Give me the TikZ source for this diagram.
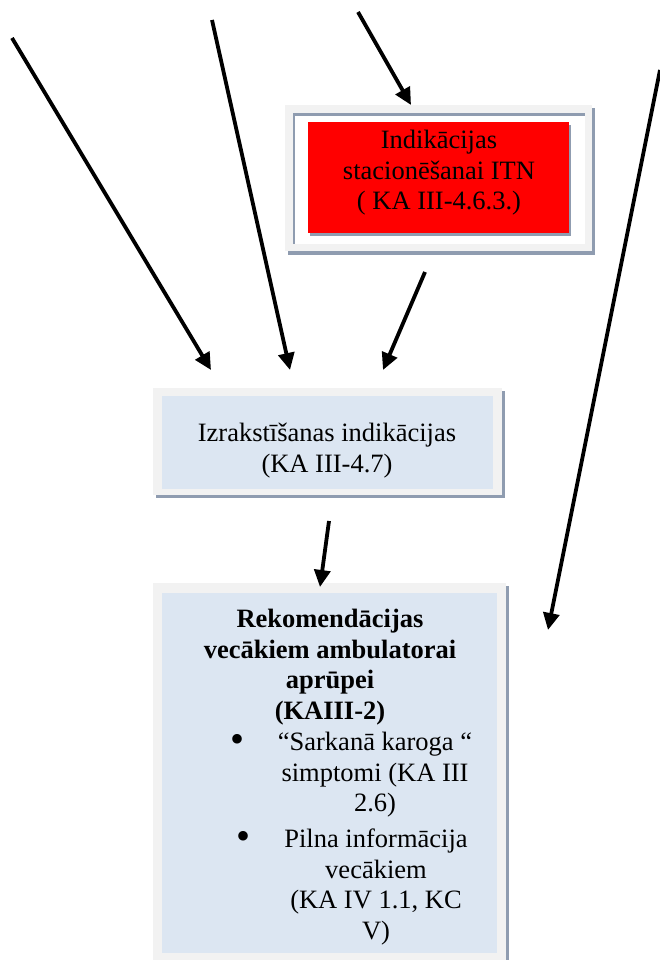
\documentclass[tikz,border=0pt]{standalone}
\usepackage{fontspec}
\setmainfont{Liberation Serif}
\usetikzlibrary{arrows.meta}
\definecolor{framegray}{HTML}{F2F2F2}
\definecolor{shadowblue}{HTML}{8F9CB0}
\definecolor{paleblue}{HTML}{DCE6F2}
\definecolor{alertred}{HTML}{FF0000}
\begin{document}
\begin{tikzpicture}[x=1pt,y=-1pt,
  txt/.style={inner sep=0pt, align=center, anchor=north, font=\fontsize{26.5}{30.5}\selectfont},
  boldtxt/.style={txt, font=\bfseries\fontsize{26.5}{30.5}\selectfont},
  bulletmark/.style={inner sep=0pt, font=\fontsize{40}{40}\selectfont},
  arr/.style={line width=3.8pt, -{Triangle[length=17pt,width=16pt]}},
  panel/.style={draw=none, inner sep=0pt, anchor=north west}]
\useasboundingbox (0,0) rectangle (659,960);

% ITN admission box: shadow, grey frame, inset white field, red panel
\fill[shadowblue] (288,108) rectangle (595,255);
\fill[framegray] (285,105) rectangle (592,251);
\fill[shadowblue] (293,113) rectangle (585,244);
\fill[white] (295,116) rectangle (585,244);
\fill[shadowblue] (310,125) rectangle (571,236);
\node[panel, fill=alertred, minimum width=261pt, minimum height=111pt] (itnbox) at (308,122) {};
\node[txt] (itn) at (439,130) {Indikācijas\\stacionēšanai ITN\\( KA III-4.6.3.)};

% discharge box
\fill[shadowblue] (156,391) rectangle (505,498);
\fill[framegray] (153,388) rectangle (502,495);
\node[panel, fill=paleblue, minimum width=331pt, minimum height=93pt] (dischbox) at (162,396) {};
\node[txt] (disch) at (327,423) {Izrakstīšanas indikācijas\\(KA III-4.7)};

% recommendations box
\fill[shadowblue] (156,586) rectangle (509,964);
\fill[framegray] (153,583) rectangle (506,961);
\node[panel, fill=paleblue, minimum width=335pt, minimum height=360pt] (recbox) at (162,593) {};
\node[boldtxt] (rechead) at (330,609) {Rekomendācijas\\vecākiem ambulatorai\\aprūpei\\(KAIII-2)};
\node[bulletmark] (b1) at (237,743) {\textbullet};
\node[txt] (item1) at (375,732) {“Sarkanā karoga “\\simptomi (KA III\\2.6)};
\node[bulletmark] (b2) at (243,840) {\textbullet};
\node[txt] (item2) at (376,829) {Pilna informācija\\vecākiem\\(KA IV 1.1, KC\\V)};

% arrow end points
\coordinate (s1) at (12,38);   \coordinate (t1) at (211,370);
\coordinate (s2) at (212,20);  \coordinate (t2) at (290,370);
\coordinate (s3) at (358,12);  \coordinate (t3) at (411,105);
\coordinate (s4) at (425,272); \coordinate (t4) at (383,370);
\coordinate (s5) at (660,70);  \coordinate (t5) at (548,630);
\coordinate (s6) at (329,521); \coordinate (t6) at (320,587);

\draw[arr] (s1) -- (t1);
\draw[arr] (s2) -- (t2);
\draw[arr] (s3) -- (t3);
\draw[arr] (s4) -- (t4);
\draw[arr] (s5) -- (t5);
\draw[arr] (s6) -- (t6);
\end{tikzpicture}
\end{document}
